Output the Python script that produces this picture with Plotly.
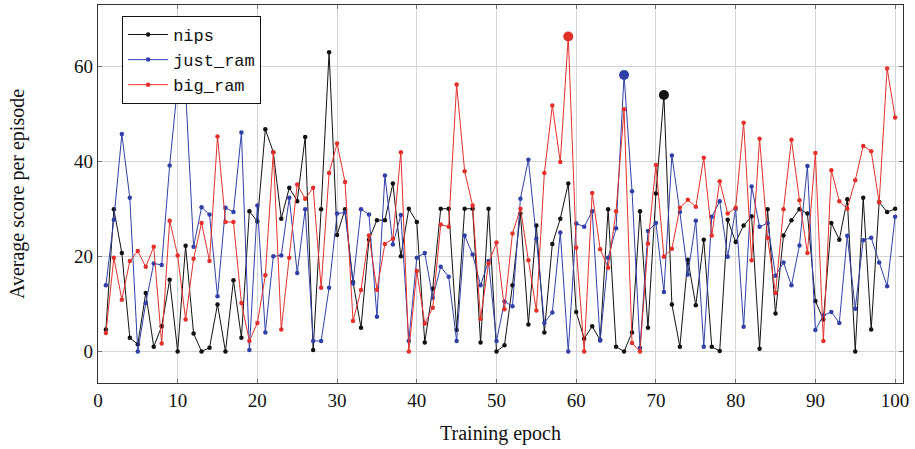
import plotly.graph_objects as go

epochs = list(range(1, 101))

nips = [4.6, 29.9, 20.7, 2.9, 1.5, 12.3, 1.0, 5.3, 15.1, 0.0,
        22.2, 3.8, 0.0, 0.8, 9.9, 0.0, 15.0, 2.9, 29.5, 27.3,
        46.7, 41.9, 27.9, 34.4, 31.6, 45.1, 0.3, 29.9, 62.9, 24.5,
        29.9, 14.6, 5.0, 23.5, 27.6, 27.6, 35.3, 20.0, 30.0, 27.2,
        1.9, 13.2, 30.0, 30.0, 4.5, 30.0, 30.0, 1.9, 30.0, 0.0,
        1.3, 13.9, 29.0, 5.7, 26.5, 4.0, 22.6, 27.9, 35.3, 8.3,
        2.7, 5.3, 2.4, 29.9, 1.0, 0.0, 4.0, 29.5, 5.0, 33.2,
        53.9, 9.9, 1.0, 19.3, 9.7, 23.5, 1.0, 0.1, 27.7, 23.0,
        26.5, 28.4, 0.6, 29.9, 8.0, 24.4, 27.6, 29.9, 29.0, 10.6,
        6.7, 27.0, 23.5, 32.0, 0.0, 32.3, 4.6, 31.4, 29.3, 30.0]

just_ram = [13.9, 27.7, 45.7, 32.3, 0.0, 10.2, 18.5, 18.2, 39.1, 56.0,
            55.0, 22.0, 30.3, 28.8, 11.6, 30.2, 29.3, 46.0, 0.3, 30.7,
            4.0, 20.0, 20.2, 32.3, 16.5, 29.9, 2.2, 2.2, 13.4, 29.0,
            29.2, 14.3, 29.9, 28.8, 7.3, 37.0, 22.5, 28.7, 2.2, 19.7,
            20.7, 11.3, 17.8, 15.7, 2.2, 24.4, 20.4, 13.9, 19.0, 2.2,
            10.5, 9.5, 32.1, 40.3, 23.7, 6.0, 8.2, 25.0, 0.0, 26.9,
            26.2, 29.5, 2.3, 19.7, 25.9, 58.1, 33.7, 0.8, 25.3, 27.0,
            12.5, 41.2, 29.3, 16.2, 27.5, 1.0, 28.3, 31.6, 19.9, 30.0,
            5.2, 34.7, 26.2, 27.0, 15.9, 18.7, 13.9, 22.3, 39.0, 4.5,
            7.6, 8.3, 6.0, 24.3, 9.0, 23.4, 23.9, 18.7, 13.7, 28.3]

big_ram = [3.9, 19.7, 10.9, 19.0, 21.1, 17.8, 22.0, 1.7, 27.5, 20.2,
           6.7, 19.5, 27.0, 19.0, 45.2, 27.2, 27.2, 10.2, 2.2, 6.0,
           16.0, 41.9, 4.6, 19.7, 35.1, 32.1, 34.4, 13.4, 37.5, 43.7,
           35.6, 6.4, 12.9, 24.4, 13.0, 22.6, 23.7, 41.9, 0.0, 16.9,
           5.9, 9.2, 26.7, 26.2, 56.1, 37.9, 30.7, 6.9, 18.5, 22.9,
           8.9, 24.8, 30.0, 19.2, 8.6, 37.5, 51.7, 39.8, 66.2, 21.8,
           0.0, 33.3, 21.5, 17.6, 29.5, 50.9, 1.8, 0.0, 22.7, 39.2,
           19.9, 21.6, 30.2, 31.9, 30.4, 40.7, 24.4, 35.8, 29.0, 30.2,
           48.1, 19.2, 44.7, 23.9, 12.3, 29.9, 44.5, 31.8, 20.7, 41.7,
           2.2, 38.1, 31.6, 30.0, 36.0, 43.2, 42.1, 31.3, 59.5, 49.2]

series_names = ["nips", "just_ram", "big_ram"]
series_values = [nips, just_ram, big_ram]
series_colors = ["#111111", "#3040a8", "#e2312b"]
highlight_epochs = [71, 66, 59]

x_ticks = [0, 10, 20, 30, 40, 50, 60, 70, 80, 90, 100]
y_ticks = [0, 20, 40, 60]

fig = go.Figure()
for name, vals, col in zip(series_names, series_values, series_colors):
    fig.add_trace(go.Scatter(
        x=epochs, y=vals, mode="lines+markers", name=name,
        line=dict(color=col, width=1),
        marker=dict(color=col, size=4.5),
    ))
# highlighted epochs
for name, vals, col, he in zip(series_names, series_values, series_colors, highlight_epochs):
    i = epochs.index(he)
    fig.add_trace(go.Scatter(
        x=[epochs[i]], y=[vals[i]], mode="markers", showlegend=False,
        marker=dict(color=col, size=10), hoverinfo="skip",
    ))

axis_common = dict(
    showgrid=True, gridcolor="#d4d4d4", gridwidth=1,
    showline=True, linecolor="#333333", linewidth=1.2, mirror="ticks",
    ticks="inside", ticklen=4, tickcolor="#777777",
    zeroline=False,
    tickfont=dict(family="Liberation Serif", size=19, color="#111111"),
)

fig.update_layout(
    width=915, height=449,
    margin=dict(l=98, r=12, t=5, b=66),
    paper_bgcolor="white", plot_bgcolor="white",
    xaxis=dict(range=[0.01, 100.99], tickvals=x_ticks,
               title=dict(text="Training epoch", font=dict(family="Liberation Serif", size=20, color="#111111"), standoff=16),
               **axis_common),
    yaxis=dict(range=[-6.62, 72.82], tickvals=y_ticks,
               title=dict(text="Average score per episode", font=dict(family="Liberation Serif", size=20, color="#111111"), standoff=44),
               **axis_common),
    legend=dict(x=0.03, y=0.971, xanchor="left", yanchor="top",
                bgcolor="white", bordercolor="#111111", borderwidth=1,
                font=dict(family="Liberation Mono", size=17, color="#111111"),
                tracegroupgap=0, itemwidth=40),
    showlegend=True,
)

fig.write_html("out.html")
